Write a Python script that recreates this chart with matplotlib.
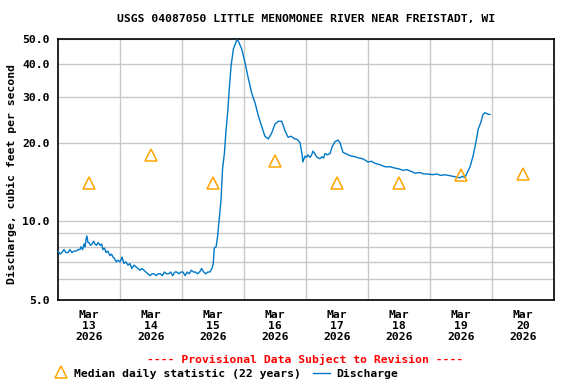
import matplotlib
matplotlib.use("Agg")
import matplotlib.pyplot as plt
from matplotlib.ticker import FixedLocator, NullFormatter, FixedFormatter
from matplotlib.lines import Line2D

# ---- data (hours since Mar 13 2026 00:00) ----
hours = [0.0, 0.8, 1.5, 2.3, 3.1, 3.9, 4.6, 5.4, 6.2, 7.0, 7.7, 8.5, 8.9, 9.5, 10.1, 10.5,
         10.8, 11.2, 11.6, 12.0, 12.6, 13.2, 13.8, 14.3, 14.9, 15.5, 16.3, 16.9, 17.4, 18.0,
         18.6, 19.3, 20.1, 20.7, 21.3, 21.9, 22.5, 23.2, 24.0, 24.8, 25.5, 26.3, 27.1, 27.8,
         28.6, 29.4, 30.2, 31.0, 31.7, 32.5, 33.3, 34.0, 34.8, 35.6, 36.4, 37.2, 38.0, 38.8,
         39.6, 40.4, 41.2, 42.0, 42.8, 43.6, 44.4, 45.2, 46.0, 46.8, 47.6, 48.4, 49.2, 50.0,
         50.8, 51.6, 52.4, 53.2, 54.0, 54.8, 55.6, 56.4, 57.2, 58.0, 58.8, 59.6, 60.1, 60.5,
         61.2, 61.8, 62.4, 63.1, 63.7, 64.4, 65.0, 65.7, 66.3, 67.0, 67.9, 69.2, 69.8, 71.1,
         72.4, 73.7, 75.0, 76.3, 77.5, 78.8, 80.1, 81.4, 82.7, 84.0, 85.3, 86.6, 87.9, 89.1,
         90.2, 91.1, 91.7, 92.7, 93.7, 94.5, 94.8, 95.6, 96.2, 96.8, 97.5, 98.1, 98.7, 99.5,
         100.3, 101.4, 102.2, 102.8, 103.4, 104.3, 105.3, 106.1, 107.2, 108.4, 109.2, 110.3,
         111.3, 112.3, 113.6, 115.0, 116.4, 117.7, 118.8, 120.0, 121.3, 122.7, 124.6, 126.6,
         128.5, 130.5, 132.0, 133.5, 135.0, 136.3, 137.2, 138.2, 140.0, 141.6, 143.2, 145.0,
         146.6, 148.2, 149.8, 151.2, 152.5, 154.0, 155.6, 156.5, 157.5, 158.3, 159.5, 160.6,
         161.4, 162.2, 162.6, 163.7, 164.5, 165.3, 166.2, 167.2]
discharge = [7.7, 7.5, 7.6, 7.8, 7.6, 7.6, 7.8, 7.6, 7.7, 7.7, 7.8, 7.8, 8.0, 7.8, 8.2, 8.0,
             8.5, 8.8, 8.3, 8.3, 8.1, 8.2, 8.4, 8.2, 8.1, 8.3, 8.1, 8.2, 7.8, 7.9,
             7.6, 7.7, 7.4, 7.5, 7.3, 7.2, 7.0, 7.1, 7.0, 7.3, 6.9, 7.0, 6.8, 6.9,
             6.6, 6.8, 6.7, 6.6, 6.5, 6.6, 6.5, 6.4, 6.3, 6.2, 6.3, 6.3, 6.2, 6.3,
             6.3, 6.2, 6.4, 6.3, 6.3, 6.4, 6.2, 6.4, 6.4, 6.3, 6.4, 6.4, 6.2, 6.4,
             6.3, 6.5, 6.4, 6.4, 6.3, 6.4, 6.6, 6.4, 6.3, 6.4, 6.4, 6.6, 6.9, 7.9,
             8.0, 8.8, 10.2, 12.1, 15.9, 18.2, 22.0, 26.3, 32.2, 39.5, 45.8, 49.6, 49.1, 45.8,
             40.6, 35.2, 31.0, 28.4, 25.5, 23.2, 21.2, 20.7, 21.8, 23.6, 24.2, 24.2, 22.2, 21.0,
             21.2, 20.9, 20.7, 20.6, 20.0, 18.0, 16.9, 17.8, 17.6, 18.0, 17.6, 17.9, 18.6, 18.1,
             17.6, 17.4, 17.7, 17.5, 18.2, 18.0, 18.2, 19.3, 20.2, 20.5, 20.0, 18.4,
             18.2, 18.0, 17.8, 17.7, 17.5, 17.4, 17.2, 16.9, 17.0, 16.7, 16.5, 16.2,
             16.2, 16.0, 15.9, 15.7, 15.8, 15.6, 15.5, 15.3, 15.4, 15.2, 15.2, 15.1,
             15.2, 15.0, 15.1, 15.0, 14.9, 14.8, 14.7, 14.9, 14.7, 15.3, 16.2, 17.7,
             19.3, 21.2, 22.5, 24.0, 25.7, 26.1, 25.8, 25.7]

median_hours = [12, 36, 60, 84, 108, 132, 156, 180]
median_values = [14.0, 18.0, 14.0, 17.0, 14.0, 14.0, 15.1, 15.2]

day_labels = ["Mar\n13\n2026", "Mar\n14\n2026", "Mar\n15\n2026", "Mar\n16\n2026",
              "Mar\n17\n2026", "Mar\n18\n2026", "Mar\n19\n2026", "Mar\n20\n2026"]
ytick_vals = [5, 10, 20, 30, 40, 50]
ytick_labels = ["5.0", "10.0", "20.0", "30.0", "40.0", "50.0"]
yminor_vals = [6, 7, 8, 9]

title = "USGS 04087050 LITTLE MENOMONEE RIVER NEAR FREISTADT, WI"

FONT = "DejaVu Sans Mono"
FS = 8.2
LINE_COLOR = "#0078C8"
TRI_COLOR = "#FFA500"
GRID = "#C8C8C8"

fig = plt.figure(figsize=(5.76, 3.84), dpi=100)
ax = fig.add_axes([58 / 576, 1 - 300 / 384, (554 - 58) / 576, (300 - 39) / 384])

ax.set_yscale("log")
ax.set_xlim(0, 192)
ax.set_ylim(5, 50)

ax.yaxis.set_major_locator(FixedLocator(ytick_vals))
ax.yaxis.set_major_formatter(FixedFormatter(ytick_labels))
ax.yaxis.set_minor_locator(FixedLocator(yminor_vals))
ax.yaxis.set_minor_formatter(NullFormatter())
ax.xaxis.set_major_locator(FixedLocator(median_hours))
ax.xaxis.set_major_formatter(FixedFormatter(day_labels))
ax.xaxis.set_minor_locator(FixedLocator([24, 48, 72, 96, 120, 144, 168]))
ax.grid(True, which="both", axis="y", color=GRID, lw=1.0)
ax.grid(True, which="minor", axis="x", color=GRID, lw=1.0)
ax.grid(False, which="major", axis="x")
ax.set_axisbelow(True)

ax.tick_params(which="both", length=0)
ax.tick_params(axis="y", pad=6)
ax.tick_params(axis="x", pad=7)
for lab in ax.get_yticklabels():
    lab.set_fontfamily(FONT); lab.set_fontweight("bold"); lab.set_fontsize(FS)
for lab in ax.get_xticklabels():
    lab.set_fontfamily(FONT); lab.set_fontweight("bold"); lab.set_fontsize(FS)
    lab.set_linespacing(1.12)

for s in ax.spines.values():
    s.set_linewidth(1.2)
    s.set_color("black")

ax.plot(hours, discharge, color=LINE_COLOR, lw=1.0, zorder=3)
ax.plot(median_hours, median_values, linestyle="none", marker="^", markersize=8,
        markerfacecolor="none", markeredgecolor=TRI_COLOR, markeredgewidth=1.1, zorder=4,
        clip_on=False)

fig.text(306 / 576, 1 - 19 / 384, title, ha="center", va="center",
         fontfamily=FONT, fontweight="bold", fontsize=FS)
fig.text(12 / 576, 1 - 174.5 / 384, "Discharge, cubic feet per second", rotation=90,
         ha="center", va="center", fontfamily=FONT, fontweight="bold", fontsize=FS)
fig.text(305 / 576, 1 - 359 / 384, "---- Provisional Data Subject to Revision ----",
         ha="center", va="center", fontfamily=FONT, fontweight="bold", fontsize=FS,
         color="red")

fig.add_artist(Line2D([60.5 / 576], [1 - 372 / 384], marker="^", markersize=8,
                      markerfacecolor="none", markeredgecolor=TRI_COLOR,
                      markeredgewidth=1.1, linestyle="none"))
fig.text(74 / 576, 1 - 373.5 / 384, "Median daily statistic (22 years)", ha="left",
         va="center", fontfamily=FONT, fontweight="bold", fontsize=FS)
fig.add_artist(Line2D([313 / 576, 330 / 576], [1 - 373 / 384, 1 - 373 / 384],
                      color=LINE_COLOR, lw=1.0))
fig.text(336 / 576, 1 - 373.5 / 384, "Discharge", ha="left", va="center",
         fontfamily=FONT, fontweight="bold", fontsize=FS)

fig.savefig("out.png", dpi=100)
